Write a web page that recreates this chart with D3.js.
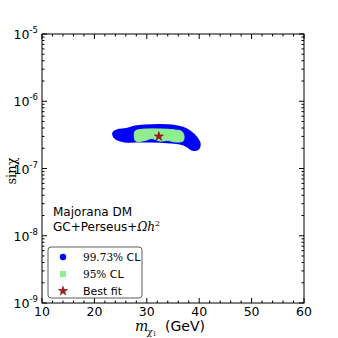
<!DOCTYPE html>
<html>
<head>
<meta charset="utf-8">
<script src="https://d3js.org/d3.v7.min.js"></script>
<style>
  body { margin: 0; background: #fff; }
  text { font-family: "DejaVu Sans", sans-serif; fill: #000; }
  .serif { font-family: "DejaVu Serif", serif; }
</style>
</head>
<body>
<svg id="chart" width="338" height="338"></svg>
<script>
// x axis: dark matter mass (GeV), y axis: sin(chi), log scale
var xTicks = [10, 20, 30, 40, 50, 60];
var yExponents = [-9, -8, -7, -6, -5];

// 99.73% CL region outline (mass, sinchi)
var blueMass = [23.7, 24.5, 26.0, 27.8, 29.7, 32.5, 34.8, 36.7, 38.2, 39.4, 40.0, 39.6, 38.6, 37.5, 36.3, 34.4, 30.6, 27.8, 25.8, 24.1];
var blueSin  = [3.37e-7, 3.67e-7, 3.80e-7, 4.14e-7, 4.29e-7, 4.36e-7, 4.29e-7, 4.00e-7, 3.49e-7, 2.84e-7, 2.31e-7, 1.95e-7, 1.95e-7, 2.23e-7, 2.39e-7, 2.48e-7, 2.56e-7, 2.56e-7, 2.56e-7, 2.84e-7];

// 95% CL region outline
var greenMass = [27.8, 28.7, 32.5, 35.4, 36.7, 37.1, 36.9, 35.4, 34.1, 32.5, 31.0, 29.7, 27.9, 27.6];
var greenSin  = [3.61e-7, 3.80e-7, 3.87e-7, 3.74e-7, 3.55e-7, 3.04e-7, 2.56e-7, 2.48e-7, 2.61e-7, 2.56e-7, 2.79e-7, 2.61e-7, 2.56e-7, 3.04e-7];

// best fit point
var bestMass = [32.3];
var bestSin = [3.0e-7];

var legendLabels = [["99.73%", " CL"], ["95%", " CL"], ["", "Best fit"]];

var margin = { top: 34, right: 34, bottom: 35, left: 42 };
var width = 338 - margin.left - margin.right,
    height = 338 - margin.top - margin.bottom;

var svg = d3.select("#chart");
var g = svg.append("g").attr("transform", "translate(" + margin.left + "," + margin.top + ")");

var x = d3.scaleLinear().domain([10, 60]).range([0, width]);
var y = d3.scaleLog().domain([1e-9, 1e-5]).range([height, 0]);

// regions
var line = d3.line()
  .x(function(d) { return x(d[0]); })
  .y(function(d) { return y(d[1]); })
  .curve(d3.curveCatmullRomClosed);

var bluePts = blueMass.map(function(m, i) { return [m, blueSin[i]]; });
var greenPts = greenMass.map(function(m, i) { return [m, greenSin[i]]; });

g.append("path").attr("d", line(bluePts))
  .attr("fill", "#0000ff").attr("stroke", "#0000ff")
  .attr("stroke-width", 3).attr("stroke-linejoin", "round");
g.append("path").attr("d", line(greenPts))
  .attr("fill", "#90ee90").attr("stroke", "#90ee90")
  .attr("stroke-width", 1).attr("stroke-linejoin", "round");

var star = d3.symbol().type(d3.symbolStar).size(26);
g.selectAll(".best").data(bestMass).enter().append("path")
  .attr("class", "best")
  .attr("d", star)
  .attr("transform", function(d, i) { return "translate(" + x(d) + "," + y(bestSin[i]) + ")"; })
  .attr("fill", "#b01818").attr("stroke", "#5a0000").attr("stroke-width", 0.5);

// frame
g.append("rect").attr("width", width).attr("height", height)
  .attr("fill", "none").attr("stroke", "#000").attr("stroke-width", 1);

// x ticks (inward, bottom and top)
var xMinor = d3.range(10, 60.01, 2).filter(function(v) { return v % 10 !== 0; });
function xTickMarks(ypos, dir) {
  g.selectAll(null).data(xTicks).enter().append("line")
    .attr("x1", function(d) { return x(d); }).attr("x2", function(d) { return x(d); })
    .attr("y1", ypos).attr("y2", ypos + dir * 5).attr("stroke", "#000");
  g.selectAll(null).data(xMinor).enter().append("line")
    .attr("x1", function(d) { return x(d); }).attr("x2", function(d) { return x(d); })
    .attr("y1", ypos).attr("y2", ypos + dir * 2.5).attr("stroke", "#000");
}
xTickMarks(height, -1);
xTickMarks(0, 1);

g.selectAll(".xlab").data(xTicks).enter().append("text")
  .attr("class", "xlab")
  .attr("x", function(d) { return x(d); })
  .attr("y", height + 13)
  .attr("text-anchor", "middle")
  .style("font-size", "12.5px")
  .text(function(d) { return d; });

// y ticks (log, inward, left and right)
var yMajor = yExponents.map(function(e) { return Math.pow(10, e); });
var yMinor = [];
yExponents.slice(0, -1).forEach(function(e) {
  for (var k = 2; k <= 9; k++) yMinor.push(k * Math.pow(10, e));
});
function yTickMarks(xpos, dir) {
  g.selectAll(null).data(yMajor).enter().append("line")
    .attr("x1", xpos).attr("x2", xpos + dir * 5)
    .attr("y1", function(d) { return y(d); }).attr("y2", function(d) { return y(d); })
    .attr("stroke", "#000");
  g.selectAll(null).data(yMinor).enter().append("line")
    .attr("x1", xpos).attr("x2", xpos + dir * 2.5)
    .attr("y1", function(d) { return y(d); }).attr("y2", function(d) { return y(d); })
    .attr("stroke", "#000");
}
yTickMarks(0, 1);
yTickMarks(width, -1);

var ylab = g.selectAll(".ylab").data(yExponents).enter().append("text")
  .attr("class", "ylab")
  .attr("x", -4)
  .attr("y", function(d) { return y(Math.pow(10, d)) + 5; })
  .attr("text-anchor", "end")
  .style("font-size", "12.5px");
ylab.append("tspan").text("10");
ylab.append("tspan").attr("dy", -6).style("font-size", "8.5px").text(function(d) { return "-" + Math.abs(d); });

// axis titles
svg.append("text")
  .attr("class", "serif")
  .attr("x", 135).attr("y", 331)
  .style("font-size", "14px").style("font-style", "italic")
  .text("m");
var sub = svg.append("text")
  .attr("class", "serif")
  .attr("x", 147).attr("y", 335)
  .style("font-style", "italic").style("font-size", "9px");
sub.append("tspan").text("χ");
sub.append("tspan").attr("dy", 1).style("font-style", "normal").style("font-size", "6.5px").text("1");
svg.append("text")
  .attr("x", 165).attr("y", 331)
  .style("font-size", "14px")
  .text("(GeV)");

svg.append("text")
  .attr("class", "serif")
  .attr("transform", "translate(16,171) rotate(-90)")
  .attr("text-anchor", "middle")
  .style("font-size", "13px")
  .text("sinχ");

// annotations
g.append("text").attr("x", 11).attr("y", 182).style("font-size", "12px").text("Majorana DM");
var ann = g.append("text").attr("x", 11).attr("y", 197).style("font-size", "12px");
ann.append("tspan").text("GC+Perseus+");
ann.append("tspan").attr("class", "serif").style("font-style", "italic").text("Ωh");
ann.append("tspan").attr("class", "serif").attr("dy", -5).style("font-size", "8px").text("2");

// legend
var lg = g.append("g").attr("transform", "translate(6,213)");
lg.append("rect").attr("width", 94).attr("height", 51).attr("rx", 3)
  .attr("fill", "#fff").attr("stroke", "#333").attr("stroke-width", 0.8);
var rows = lg.selectAll(".lrow").data(legendLabels).enter().append("g")
  .attr("class", "lrow")
  .attr("transform", function(d, i) { return "translate(0," + (10 + i * 17) + ")"; });
rows.each(function(d, i) {
  var r = d3.select(this);
  if (i === 0) r.append("circle").attr("cx", 15).attr("cy", 0).attr("r", 3.2).attr("fill", "#0000ff");
  if (i === 1) r.append("rect").attr("x", 12).attr("y", -3).attr("width", 6).attr("height", 6).attr("fill", "#90ee90");
  if (i === 2) r.append("path").attr("d", star).attr("transform", "translate(15,0)")
    .attr("fill", "#b01818").attr("stroke", "#5a0000").attr("stroke-width", 0.5);
  var t = r.append("text").attr("x", 35).attr("y", 4).style("font-size", "11px");
  if (d[0]) t.append("tspan").attr("class", "serif").style("font-size", "10.5px").text(d[0]);
  t.append("tspan").text(d[1]);
});
</script>
</body>
</html>
